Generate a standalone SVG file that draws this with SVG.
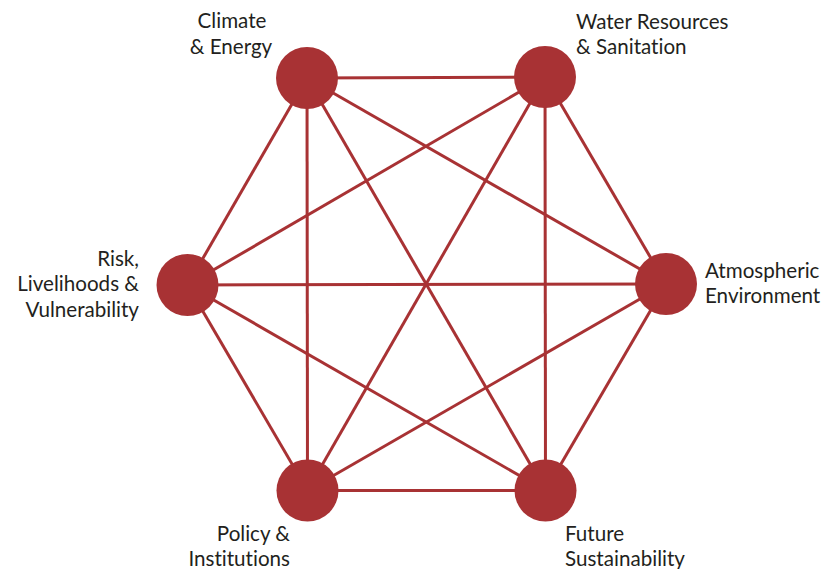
<svg xmlns="http://www.w3.org/2000/svg" width="824" height="569" viewBox="0 0 824 569">
<style>
.e{stroke:#a83234;stroke-width:3;fill:none}
.n{fill:#a83234}
.t{font-family:Lato,"Open Sans",sans-serif;font-size:20.6px;fill:#231f20;font-variant-ligatures:none;font-feature-settings:"liga" 0,"dlig" 0}
</style>
<rect width="824" height="569" fill="#fff"/>
<g id="connectors">
<line class="e" x1="307" y1="78" x2="545" y2="77"/>
<line class="e" x1="307" y1="78" x2="666" y2="284"/>
<line class="e" x1="307" y1="78" x2="545.5" y2="490.5"/>
<line class="e" x1="307" y1="78" x2="307.5" y2="490.5"/>
<line class="e" x1="307" y1="78" x2="187.5" y2="285"/>
<line class="e" x1="545" y1="77" x2="666" y2="284"/>
<line class="e" x1="545" y1="77" x2="545.5" y2="490.5"/>
<line class="e" x1="545" y1="77" x2="307.5" y2="490.5"/>
<line class="e" x1="545" y1="77" x2="187.5" y2="285"/>
<line class="e" x1="666" y1="284" x2="545.5" y2="490.5"/>
<line class="e" x1="666" y1="284" x2="307.5" y2="490.5"/>
<line class="e" x1="666" y1="284" x2="187.5" y2="285"/>
<line class="e" x1="545.5" y1="490.5" x2="307.5" y2="490.5"/>
<line class="e" x1="545.5" y1="490.5" x2="187.5" y2="285"/>
<line class="e" x1="307.5" y1="490.5" x2="187.5" y2="285"/>
</g>
<g id="climate">
<circle class="n" cx="307" cy="78" r="31"/>
<text class="t" text-anchor="middle"><tspan x="232" y="28">Climate</tspan><tspan x="231" y="54">&amp; Energy</tspan></text>
</g>
<g id="water">
<circle class="n" cx="545" cy="77" r="31"/>
<text class="t"><tspan x="576" y="29">Water Resources</tspan><tspan x="576" y="54">&amp; Sanitation</tspan></text>
</g>
<g id="atmospheric">
<circle class="n" cx="666" cy="284" r="31"/>
<text class="t"><tspan x="705" y="278">Atmospheric</tspan><tspan x="705" y="303">Environment</tspan></text>
</g>
<g id="future">
<circle class="n" cx="545.5" cy="490.5" r="31"/>
<text class="t"><tspan x="565" y="541">Future</tspan><tspan x="565" y="566">Sustainability</tspan></text>
</g>
<g id="policy">
<circle class="n" cx="307.5" cy="490.5" r="31"/>
<text class="t" text-anchor="end"><tspan x="290" y="541">Policy &amp;</tspan><tspan x="290" y="566">Institutions</tspan></text>
</g>
<g id="risk">
<circle class="n" cx="187.5" cy="285" r="31"/>
<text class="t" text-anchor="end"><tspan x="139" y="266">Risk,</tspan><tspan x="139" y="291">Livelihoods &amp;</tspan><tspan x="139" y="317">Vulnerability</tspan></text>
</g>
</svg>
